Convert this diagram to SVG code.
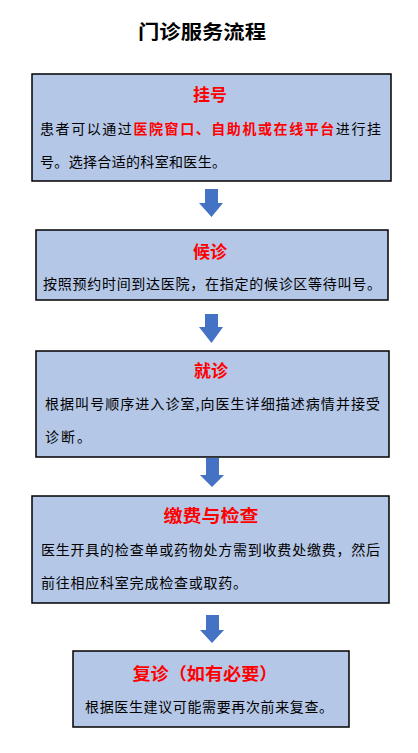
<svg xmlns="http://www.w3.org/2000/svg" width="418" height="753" viewBox="0 0 418 753">
<style>
.box{fill:#B4C7E7;stroke:#000;stroke-width:1.5}
.arr{fill:#4472C4}
.h{font-family:"Noto Sans CJK SC","Liberation Sans",sans-serif;font-weight:bold;font-size:17px;fill:#FF0000;text-anchor:middle}
.t{font-family:"Noto Sans CJK SC","Liberation Sans",sans-serif;font-size:14px;fill:#000}
.r{fill:#FF0000;font-weight:bold}
.title{font-family:"Noto Sans CJK SC","Liberation Sans",sans-serif;font-weight:bold;font-size:19px;fill:#000;text-anchor:middle}
</style>
<rect width="418" height="753" fill="#fff"/>
<text class="title" x="202" y="39" textLength="128" lengthAdjust="spacingAndGlyphs">门诊服务流程</text>
<g id="connectors">
<polygon class="arr" points="205,189 218,189 218,203 223,203 211.5,217 199,203 205,203"/>
<polygon class="arr" points="205,314 218,314 218,327 223,327 211.5,343 199,327 205,327"/>
<polygon class="arr" points="206,458 219,458 219,475 224,475 212,487 200,475 206,475"/>
<polygon class="arr" points="206,615 219,615 219,630 224,630 212,643 200,630 206,630"/>
</g>
<g id="node1">
<rect class="box" x="32" y="74" width="359" height="107"/>
<text class="h" x="210" y="101">挂号</text>
<text class="t" x="40" y="134" textLength="341" lengthAdjust="spacing">患者可以通过<tspan class="r">医院窗口、自助机或在线平台</tspan>进行挂</text>
<text class="t" x="40" y="167" textLength="186" lengthAdjust="spacing">号。选择合适的科室和医生。</text>
</g>
<g id="node2">
<rect class="box" x="36" y="230" width="352" height="70"/>
<text class="h" x="210" y="258">候诊</text>
<text class="t" x="43" y="289" textLength="338" lengthAdjust="spacing">按照预约时间到达医院，在指定的候诊区等待叫号。</text>
</g>
<g id="node3">
<rect class="box" x="36" y="351" width="353" height="106"/>
<text class="h" x="211" y="377">就诊</text>
<text class="t" x="45" y="409" textLength="335" lengthAdjust="spacing">根据叫号顺序进入诊室,向医生详细描述病情并接受</text>
<text class="t" x="45" y="442" textLength="46" lengthAdjust="spacing">诊断。</text>
</g>
<g id="node4">
<rect class="box" x="32" y="496" width="357" height="107"/>
<text class="h" x="211" y="522" textLength="95" lengthAdjust="spacingAndGlyphs">缴费与检查</text>
<text class="t" x="41" y="555" textLength="339" lengthAdjust="spacing">医生开具的检查单或药物处方需到收费处缴费，然后</text>
<text class="t" x="41" y="588" textLength="206" lengthAdjust="spacing">前往相应科室完成检查或取药。</text>
</g>
<g id="node5">
<rect class="box" x="73" y="651" width="276" height="76"/>
<text class="h" x="205" y="680" textLength="145" lengthAdjust="spacingAndGlyphs">复诊（如有必要）</text>
<text class="t" x="85" y="712" textLength="248" lengthAdjust="spacing">根据医生建议可能需要再次前来复查。</text>
</g>
</svg>
